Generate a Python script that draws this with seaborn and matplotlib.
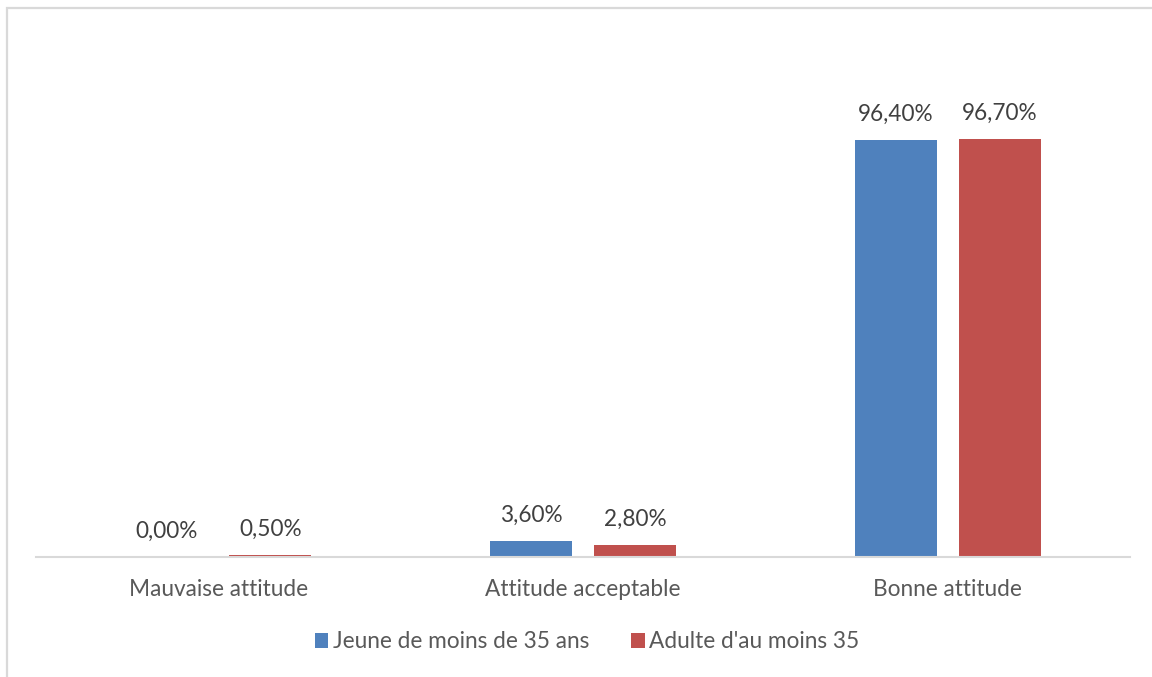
import matplotlib
matplotlib.use("Agg")
import matplotlib.pyplot as plt
from matplotlib.patches import Rectangle
import pandas as pd
import seaborn as sns

categories = ["Mauvaise attitude", "Attitude acceptable", "Bonne attitude"]
series_names = ["Jeune de moins de 35 ans", "Adulte d'au moins 35"]
jeunes = [0.0, 3.6, 96.4]
adultes = [0.5, 2.8, 96.7]
colors = ["#4F81BD", "#C0504D"]

df = pd.DataFrame({
    "categorie": categories * 2,
    "groupe": [series_names[0]] * 3 + [series_names[1]] * 3,
    "valeur": jeunes + adultes,
})

sns.set_theme(style="white")
plt.rcParams["font.family"] = ["Lato", "DejaVu Sans"]

W, H = 1152, 677
fig = plt.figure(figsize=(W / 100, H / 100), dpi=100)
ax = fig.add_axes([36 / W, 1 - 557 / H, (1130 - 36) / W, (557 - 38) / H])

sns.barplot(data=df, x="categorie", y="valeur", hue="groupe",
            order=categories, hue_order=series_names,
            palette=colors, width=0.57, gap=0.21, saturation=1,
            linewidth=0, ax=ax, legend=True)

ax.set_xlim(-0.5, 2.5)
ax.set_ylim(0, 120)
ax.set_xlabel("")
ax.set_ylabel("")
ax.set_yticks([])
for side in ("top", "right", "left"):
    ax.spines[side].set_visible(False)
ax.spines["bottom"].set_color("#D9D9D9")
ax.spines["bottom"].set_linewidth(1.5)
ax.tick_params(axis="x", length=0, pad=16, labelsize=16.3, labelcolor="#595959")

for container in ax.containers:
    labels = [f"{v:.2f}%".replace(".", ",") for v in container.datavalues]
    ax.bar_label(container, labels=labels, padding=11, fontsize=16.3, color="#404040")

handles, labels = ax.get_legend_handles_labels()
ax.legend_.remove()
fig.legend(handles, labels, loc="center", bbox_to_anchor=(587 / W, 1 - 642 / H),
           ncol=2, frameon=False, fontsize=16.3, labelcolor="#595959",
           handlelength=0.6, handleheight=0.6, handletextpad=0.2,
           columnspacing=1.85)

# light frame around the chart area
fig.patches.append(Rectangle((6.5 / W, -0.1), 1.2, 1 - 7.5 / H + 0.1,
                             transform=fig.transFigure, fill=False,
                             edgecolor="#D9D9D9", linewidth=1.6))

fig.savefig("out.png", dpi=100)
